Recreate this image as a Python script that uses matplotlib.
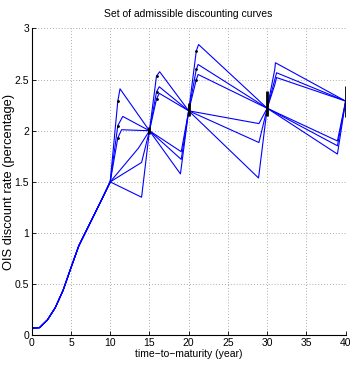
import numpy as np
import matplotlib
matplotlib.use("Agg")
import matplotlib.pyplot as plt

# common short end of the curve (0-10y)
base_t = [0, 1, 2, 3, 4, 5, 6, 7, 8, 9, 10]
base_r = [0.07, 0.075, 0.15, 0.27, 0.44, 0.66, 0.875, 1.03, 1.185, 1.34, 1.5]

# calibration nodes the curves must pass through
knot_t = [10, 15, 20, 30, 40]
knot_r = [1.5, 2.0, 2.195, 2.22, 2.29]

# curves that jump up right after a node: first yearly point, then the peak
up_dot_t = [10.97, 15.9, 20.97, 30.97]
up_dot_r = [[2.29, 2.05, 1.93],
            [2.535, 2.38, 2.31],
            [2.78, 2.60, 2.50],
            [2.60, 2.50, 2.45]]
up_peak_t = [[11.25, 11.6, 11.45],
             [16.3, 16.25, 16.25],
             [21.26, 21.2, 21.2],
             [31.05, 31.2, 31.2]]
up_peak_r = [[2.41, 2.14, 2.01],
             [2.577, 2.43, 2.366],
             [2.843, 2.648, 2.55],
             [2.665, 2.567, 2.52]]

# curves that sag before the next node
dn_t = [[14.0, 14.0, 13.6],
        [19.05, 19.05, 18.95],
        [28.95, 28.95, 28.9],
        [38.95, 38.95, 38.95]]
dn_r = [[1.35, 1.69, 1.83],
        [1.795, 1.72, 1.578],
        [2.07, 1.885, 1.538],
        [1.90, 1.853, 1.772]]

# bid/ask ranges at the nodes
bar_t = [15, 20, 30, 40]
bar_lo = [1.97, 2.14, 2.145, 2.13]
bar_hi = [2.04, 2.275, 2.39, 2.44]

plt.rcParams['font.family'] = ['Liberation Sans', 'DejaVu Sans']

fig = plt.figure(figsize=(3.5, 3.67), dpi=100)
ax = fig.add_axes([0.0906, 0.0864, 0.897, 0.836])

for k in range(6):
    t = list(base_t)
    r = list(base_r)
    for i in range(4):
        if k < 3:
            t += [up_dot_t[i], up_peak_t[i][k], knot_t[i + 1]]
            r += [up_dot_r[i][k], up_peak_r[i][k], knot_r[i + 1]]
        else:
            t += [dn_t[i][k - 3], knot_t[i + 1]]
            r += [dn_r[i][k - 3], knot_r[i + 1]]
    ax.plot(t, r, color=(0, 0, 1), lw=0.8)

for i in range(3):
    ax.plot([up_dot_t[i]] * 3, up_dot_r[i], 'k.', ms=2)

ax.vlines(bar_t, bar_lo, bar_hi, color='k', lw=2)

ax.set_xlim(0, 40)
ax.set_ylim(0, 3)
ax.set_xticks(np.arange(0, 41, 5))
ax.set_yticks([0, 0.5, 1, 1.5, 2, 2.5, 3])
ax.set_yticklabels(['0', '0.5', '1', '1.5', '2', '2.5', '3'])
ax.tick_params(direction='in', length=3, width=0.6, labelsize=7.5, pad=2)
ax.grid(True, linestyle=(0, (1, 2.5)), color='#909090', lw=0.6)
ax.spines['top'].set_visible(False)
ax.spines['right'].set_visible(False)
ax.spines['left'].set_linewidth(0.8)
ax.spines['bottom'].set_linewidth(0.8)

ax.set_title('Set of admissible discounting curves', fontsize=7.5, pad=8)
ax.set_xlabel('time\u2212to\u2212maturity (year)', fontsize=7.5, labelpad=1)
ax.set_ylabel('OIS discount rate (percentage)', fontsize=9.3)
ax.yaxis.set_label_coords(-0.052, 0.5)

fig.savefig('out.png', dpi=100)
